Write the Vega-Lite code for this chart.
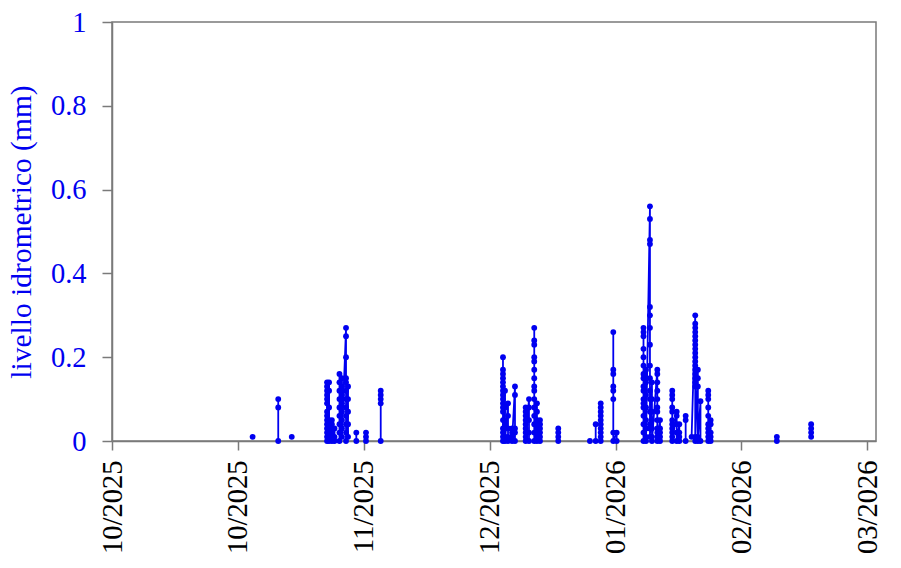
{
  "$schema": "https://vega.github.io/schema/vega-lite/v6.json",
  "autosize": "none",
  "width": 764,
  "height": 419,
  "padding": {"left": 112, "top": 22, "right": 25, "bottom": 127},
  "background": "white",
  "config": {
    "font": "Liberation Serif, Times New Roman, DejaVu Serif, serif",
    "view": {"stroke": "#7a7a7a", "strokeWidth": 1.5},
    "axis": {
      "domainColor": "#7a7a7a",
      "domainWidth": 1.5,
      "tickColor": "#7a7a7a",
      "tickWidth": 1.5,
      "grid": false,
      "labelFont": "Liberation Serif, Times New Roman, DejaVu Serif, serif",
      "titleFont": "Liberation Serif, Times New Roman, DejaVu Serif, serif",
      "labelFontSize": 28.5,
      "titleFontSize": 29.5,
      "titleFontWeight": "normal"
    }
  },
  "data": {
    "values": [
      {"t": "2025-10-30T01:00", "v": 0.01, "e": 1},
      {"t": "2025-11-04T08:00", "v": 0.10, "e": 2},
      {"t": "2025-11-04T08:00", "v": 0.08, "e": 2},
      {"t": "2025-11-04T08:00", "v": 0, "e": 2},
      {"t": "2025-11-07T03:00", "v": 0.01, "e": 3},
      {"t": "2025-11-14T10:00", "v": 0.14, "e": 4},
      {"t": "2025-11-14T10:00", "v": 0.13, "e": 4},
      {"t": "2025-11-14T10:00", "v": 0.12, "e": 4},
      {"t": "2025-11-14T10:00", "v": 0.11, "e": 4},
      {"t": "2025-11-14T10:00", "v": 0.10, "e": 4},
      {"t": "2025-11-14T10:00", "v": 0.09, "e": 4},
      {"t": "2025-11-14T10:00", "v": 0.07, "e": 4},
      {"t": "2025-11-14T10:00", "v": 0.06, "e": 4},
      {"t": "2025-11-14T10:00", "v": 0.05, "e": 4},
      {"t": "2025-11-14T10:00", "v": 0.04, "e": 4},
      {"t": "2025-11-14T10:00", "v": 0.03, "e": 4},
      {"t": "2025-11-14T10:00", "v": 0.02, "e": 4},
      {"t": "2025-11-14T10:00", "v": 0.01, "e": 4},
      {"t": "2025-11-14T10:00", "v": 0, "e": 4},
      {"t": "2025-11-14T20:00", "v": 0.14, "e": 4},
      {"t": "2025-11-14T20:00", "v": 0.12, "e": 4},
      {"t": "2025-11-14T20:00", "v": 0.08, "e": 4},
      {"t": "2025-11-14T20:00", "v": 0.05, "e": 4},
      {"t": "2025-11-14T20:00", "v": 0.02, "e": 4},
      {"t": "2025-11-14T20:00", "v": 0, "e": 4},
      {"t": "2025-11-15T10:00", "v": 0.05, "e": 4},
      {"t": "2025-11-15T10:00", "v": 0.04, "e": 4},
      {"t": "2025-11-15T10:00", "v": 0.03, "e": 4},
      {"t": "2025-11-15T10:00", "v": 0.02, "e": 4},
      {"t": "2025-11-15T10:00", "v": 0.01, "e": 4},
      {"t": "2025-11-15T10:00", "v": 0, "e": 4},
      {"t": "2025-11-15T23:00", "v": 0.03, "e": 4},
      {"t": "2025-11-15T23:00", "v": 0.01, "e": 4},
      {"t": "2025-11-15T23:00", "v": 0, "e": 4},
      {"t": "2025-11-16T23:30", "v": 0.16, "e": 5},
      {"t": "2025-11-16T23:30", "v": 0.14, "e": 5},
      {"t": "2025-11-16T23:30", "v": 0.12, "e": 5},
      {"t": "2025-11-16T23:30", "v": 0.10, "e": 5},
      {"t": "2025-11-16T23:30", "v": 0.08, "e": 5},
      {"t": "2025-11-16T23:30", "v": 0.06, "e": 5},
      {"t": "2025-11-16T23:30", "v": 0.04, "e": 5},
      {"t": "2025-11-16T23:30", "v": 0.02, "e": 5},
      {"t": "2025-11-16T23:30", "v": 0, "e": 5},
      {"t": "2025-11-17T12:00", "v": 0.15, "e": 5},
      {"t": "2025-11-17T12:00", "v": 0.13, "e": 5},
      {"t": "2025-11-17T12:00", "v": 0.11, "e": 5},
      {"t": "2025-11-17T12:00", "v": 0.09, "e": 5},
      {"t": "2025-11-17T12:00", "v": 0.07, "e": 5},
      {"t": "2025-11-17T12:00", "v": 0.05, "e": 5},
      {"t": "2025-11-17T12:00", "v": 0.03, "e": 5},
      {"t": "2025-11-17T12:00", "v": 0.01, "e": 5},
      {"t": "2025-11-18T08:00", "v": 0.27, "e": 5},
      {"t": "2025-11-18T08:00", "v": 0.25, "e": 5},
      {"t": "2025-11-18T08:00", "v": 0.20, "e": 5},
      {"t": "2025-11-18T08:00", "v": 0.15, "e": 5},
      {"t": "2025-11-18T08:00", "v": 0.14, "e": 5},
      {"t": "2025-11-18T08:00", "v": 0.12, "e": 5},
      {"t": "2025-11-18T08:00", "v": 0.10, "e": 5},
      {"t": "2025-11-18T08:00", "v": 0.08, "e": 5},
      {"t": "2025-11-18T08:00", "v": 0.06, "e": 5},
      {"t": "2025-11-18T08:00", "v": 0.04, "e": 5},
      {"t": "2025-11-18T08:00", "v": 0.02, "e": 5},
      {"t": "2025-11-18T08:00", "v": 0, "e": 5},
      {"t": "2025-11-18T18:00", "v": 0.13, "e": 5},
      {"t": "2025-11-18T18:00", "v": 0.10, "e": 5},
      {"t": "2025-11-18T18:00", "v": 0.07, "e": 5},
      {"t": "2025-11-18T18:00", "v": 0.04, "e": 5},
      {"t": "2025-11-18T18:00", "v": 0.01, "e": 5},
      {"t": "2025-11-20T11:00", "v": 0.02, "e": 6},
      {"t": "2025-11-20T11:00", "v": 0, "e": 6},
      {"t": "2025-11-22T11:00", "v": 0.02, "e": 7},
      {"t": "2025-11-22T11:00", "v": 0.01, "e": 7},
      {"t": "2025-11-22T11:00", "v": 0, "e": 7},
      {"t": "2025-11-25T12:00", "v": 0.12, "e": 8},
      {"t": "2025-11-25T12:00", "v": 0.11, "e": 8},
      {"t": "2025-11-25T12:00", "v": 0.10, "e": 8},
      {"t": "2025-11-25T12:00", "v": 0.09, "e": 8},
      {"t": "2025-11-25T12:00", "v": 0, "e": 8},
      {"t": "2025-12-20T18:00", "v": 0.20, "e": 9},
      {"t": "2025-12-20T18:00", "v": 0.17, "e": 9},
      {"t": "2025-12-20T18:00", "v": 0.16, "e": 9},
      {"t": "2025-12-20T18:00", "v": 0.15, "e": 9},
      {"t": "2025-12-20T18:00", "v": 0.14, "e": 9},
      {"t": "2025-12-20T18:00", "v": 0.13, "e": 9},
      {"t": "2025-12-20T18:00", "v": 0.12, "e": 9},
      {"t": "2025-12-20T18:00", "v": 0.11, "e": 9},
      {"t": "2025-12-20T18:00", "v": 0.10, "e": 9},
      {"t": "2025-12-20T18:00", "v": 0.09, "e": 9},
      {"t": "2025-12-20T18:00", "v": 0.08, "e": 9},
      {"t": "2025-12-20T18:00", "v": 0.07, "e": 9},
      {"t": "2025-12-20T18:00", "v": 0.05, "e": 9},
      {"t": "2025-12-20T18:00", "v": 0.03, "e": 9},
      {"t": "2025-12-20T18:00", "v": 0.02, "e": 9},
      {"t": "2025-12-20T18:00", "v": 0.01, "e": 9},
      {"t": "2025-12-20T18:00", "v": 0, "e": 9},
      {"t": "2025-12-21T04:00", "v": 0.12, "e": 9},
      {"t": "2025-12-21T04:00", "v": 0.08, "e": 9},
      {"t": "2025-12-21T04:00", "v": 0.04, "e": 9},
      {"t": "2025-12-21T04:00", "v": 0.01, "e": 9},
      {"t": "2025-12-21T04:00", "v": 0, "e": 9},
      {"t": "2025-12-21T19:00", "v": 0.09, "e": 9},
      {"t": "2025-12-21T19:00", "v": 0.06, "e": 9},
      {"t": "2025-12-21T19:00", "v": 0.03, "e": 9},
      {"t": "2025-12-21T19:00", "v": 0.01, "e": 9},
      {"t": "2025-12-21T19:00", "v": 0, "e": 9},
      {"t": "2025-12-22T15:00", "v": 0.03, "e": 10},
      {"t": "2025-12-22T15:00", "v": 0.02, "e": 10},
      {"t": "2025-12-22T15:00", "v": 0.01, "e": 10},
      {"t": "2025-12-22T15:00", "v": 0, "e": 10},
      {"t": "2025-12-23T05:30", "v": 0.13, "e": 10},
      {"t": "2025-12-23T05:30", "v": 0.11, "e": 10},
      {"t": "2025-12-23T05:30", "v": 0.03, "e": 10},
      {"t": "2025-12-23T05:30", "v": 0.02, "e": 10},
      {"t": "2025-12-23T05:30", "v": 0, "e": 10},
      {"t": "2025-12-25T10:30", "v": 0.08, "e": 11},
      {"t": "2025-12-25T10:30", "v": 0.07, "e": 11},
      {"t": "2025-12-25T10:30", "v": 0.06, "e": 11},
      {"t": "2025-12-25T10:30", "v": 0.05, "e": 11},
      {"t": "2025-12-25T10:30", "v": 0.04, "e": 11},
      {"t": "2025-12-25T10:30", "v": 0.03, "e": 11},
      {"t": "2025-12-25T10:30", "v": 0.02, "e": 11},
      {"t": "2025-12-25T10:30", "v": 0.01, "e": 11},
      {"t": "2025-12-25T10:30", "v": 0, "e": 11},
      {"t": "2025-12-26T03:00", "v": 0.10, "e": 11},
      {"t": "2025-12-26T03:00", "v": 0.08, "e": 11},
      {"t": "2025-12-26T03:00", "v": 0.05, "e": 11},
      {"t": "2025-12-26T03:00", "v": 0.02, "e": 11},
      {"t": "2025-12-26T03:00", "v": 0, "e": 11},
      {"t": "2025-12-27T05:00", "v": 0.27, "e": 12},
      {"t": "2025-12-27T05:00", "v": 0.24, "e": 12},
      {"t": "2025-12-27T05:00", "v": 0.23, "e": 12},
      {"t": "2025-12-27T05:00", "v": 0.20, "e": 12},
      {"t": "2025-12-27T05:00", "v": 0.19, "e": 12},
      {"t": "2025-12-27T05:00", "v": 0.17, "e": 12},
      {"t": "2025-12-27T05:00", "v": 0.15, "e": 12},
      {"t": "2025-12-27T05:00", "v": 0.13, "e": 12},
      {"t": "2025-12-27T05:00", "v": 0.12, "e": 12},
      {"t": "2025-12-27T05:00", "v": 0.10, "e": 12},
      {"t": "2025-12-27T05:00", "v": 0.08, "e": 12},
      {"t": "2025-12-27T05:00", "v": 0.06, "e": 12},
      {"t": "2025-12-27T05:00", "v": 0.04, "e": 12},
      {"t": "2025-12-27T05:00", "v": 0.02, "e": 12},
      {"t": "2025-12-27T05:00", "v": 0, "e": 12},
      {"t": "2025-12-27T18:30", "v": 0.09, "e": 12},
      {"t": "2025-12-27T18:30", "v": 0.07, "e": 12},
      {"t": "2025-12-27T18:30", "v": 0.05, "e": 12},
      {"t": "2025-12-27T18:30", "v": 0.04, "e": 12},
      {"t": "2025-12-27T18:30", "v": 0.03, "e": 12},
      {"t": "2025-12-27T18:30", "v": 0.02, "e": 12},
      {"t": "2025-12-27T18:30", "v": 0.01, "e": 12},
      {"t": "2025-12-27T18:30", "v": 0, "e": 12},
      {"t": "2025-12-28T09:30", "v": 0.05, "e": 12},
      {"t": "2025-12-28T09:30", "v": 0.04, "e": 12},
      {"t": "2025-12-28T09:30", "v": 0.03, "e": 12},
      {"t": "2025-12-28T09:30", "v": 0.02, "e": 12},
      {"t": "2025-12-28T09:30", "v": 0.01, "e": 12},
      {"t": "2025-12-28T09:30", "v": 0, "e": 12},
      {"t": "2026-01-01T04:00", "v": 0.03, "e": 13},
      {"t": "2026-01-01T04:00", "v": 0.02, "e": 13},
      {"t": "2026-01-01T04:00", "v": 0.01, "e": 13},
      {"t": "2026-01-01T04:00", "v": 0, "e": 13},
      {"t": "2026-01-07T17:00", "v": 0, "e": 14},
      {"t": "2026-01-08T21:30", "v": 0.04, "e": 15},
      {"t": "2026-01-08T21:30", "v": 0, "e": 15},
      {"t": "2026-01-09T22:30", "v": 0.09, "e": 16},
      {"t": "2026-01-09T22:30", "v": 0.08, "e": 16},
      {"t": "2026-01-09T22:30", "v": 0.07, "e": 16},
      {"t": "2026-01-09T22:30", "v": 0.06, "e": 16},
      {"t": "2026-01-09T22:30", "v": 0.05, "e": 16},
      {"t": "2026-01-09T22:30", "v": 0.04, "e": 16},
      {"t": "2026-01-09T22:30", "v": 0.03, "e": 16},
      {"t": "2026-01-09T22:30", "v": 0.02, "e": 16},
      {"t": "2026-01-09T22:30", "v": 0.01, "e": 16},
      {"t": "2026-01-09T22:30", "v": 0, "e": 16},
      {"t": "2026-01-12T12:45", "v": 0.26, "e": 17},
      {"t": "2026-01-12T12:45", "v": 0.17, "e": 17},
      {"t": "2026-01-12T12:45", "v": 0.16, "e": 17},
      {"t": "2026-01-12T12:45", "v": 0.13, "e": 17},
      {"t": "2026-01-12T12:45", "v": 0.12, "e": 17},
      {"t": "2026-01-12T12:45", "v": 0.10, "e": 17},
      {"t": "2026-01-12T12:45", "v": 0.02, "e": 17},
      {"t": "2026-01-12T12:45", "v": 0, "e": 17},
      {"t": "2026-01-13T05:30", "v": 0.02, "e": 17},
      {"t": "2026-01-13T05:30", "v": 0, "e": 17},
      {"t": "2026-01-18T18:30", "v": 0.27, "e": 18},
      {"t": "2026-01-18T18:30", "v": 0.26, "e": 18},
      {"t": "2026-01-18T18:30", "v": 0.25, "e": 18},
      {"t": "2026-01-18T18:30", "v": 0.22, "e": 18},
      {"t": "2026-01-18T18:30", "v": 0.20, "e": 18},
      {"t": "2026-01-18T18:30", "v": 0.18, "e": 18},
      {"t": "2026-01-18T18:30", "v": 0.16, "e": 18},
      {"t": "2026-01-18T18:30", "v": 0.15, "e": 18},
      {"t": "2026-01-18T18:30", "v": 0.13, "e": 18},
      {"t": "2026-01-18T18:30", "v": 0.12, "e": 18},
      {"t": "2026-01-18T18:30", "v": 0.10, "e": 18},
      {"t": "2026-01-18T18:30", "v": 0.09, "e": 18},
      {"t": "2026-01-18T18:30", "v": 0.08, "e": 18},
      {"t": "2026-01-18T18:30", "v": 0.06, "e": 18},
      {"t": "2026-01-18T18:30", "v": 0.04, "e": 18},
      {"t": "2026-01-18T18:30", "v": 0.02, "e": 18},
      {"t": "2026-01-18T18:30", "v": 0, "e": 18},
      {"t": "2026-01-19T07:00", "v": 0.17, "e": 18},
      {"t": "2026-01-19T07:00", "v": 0.14, "e": 18},
      {"t": "2026-01-19T07:00", "v": 0.11, "e": 18},
      {"t": "2026-01-19T07:00", "v": 0.08, "e": 18},
      {"t": "2026-01-19T07:00", "v": 0.05, "e": 18},
      {"t": "2026-01-19T07:00", "v": 0.03, "e": 18},
      {"t": "2026-01-19T07:00", "v": 0.01, "e": 18},
      {"t": "2026-01-19T07:00", "v": 0, "e": 18},
      {"t": "2026-01-20T02:30", "v": 0.56, "e": 18},
      {"t": "2026-01-20T02:30", "v": 0.53, "e": 18},
      {"t": "2026-01-20T02:30", "v": 0.48, "e": 18},
      {"t": "2026-01-20T02:30", "v": 0.47, "e": 18},
      {"t": "2026-01-20T02:30", "v": 0.32, "e": 18},
      {"t": "2026-01-20T02:30", "v": 0.30, "e": 18},
      {"t": "2026-01-20T02:30", "v": 0.27, "e": 18},
      {"t": "2026-01-20T02:30", "v": 0.23, "e": 18},
      {"t": "2026-01-20T02:30", "v": 0.18, "e": 18},
      {"t": "2026-01-20T02:30", "v": 0.15, "e": 18},
      {"t": "2026-01-20T02:30", "v": 0.12, "e": 18},
      {"t": "2026-01-20T02:30", "v": 0.10, "e": 18},
      {"t": "2026-01-20T02:30", "v": 0.07, "e": 18},
      {"t": "2026-01-20T02:30", "v": 0.04, "e": 18},
      {"t": "2026-01-20T02:30", "v": 0.03, "e": 18},
      {"t": "2026-01-20T02:30", "v": 0.01, "e": 18},
      {"t": "2026-01-20T12:30", "v": 0.14, "e": 18},
      {"t": "2026-01-20T12:30", "v": 0.10, "e": 18},
      {"t": "2026-01-20T12:30", "v": 0.07, "e": 18},
      {"t": "2026-01-20T12:30", "v": 0.05, "e": 18},
      {"t": "2026-01-20T12:30", "v": 0.03, "e": 18},
      {"t": "2026-01-20T12:30", "v": 0.01, "e": 18},
      {"t": "2026-01-20T12:30", "v": 0, "e": 18},
      {"t": "2026-01-21T15:00", "v": 0.17, "e": 18},
      {"t": "2026-01-21T15:00", "v": 0.16, "e": 18},
      {"t": "2026-01-21T15:00", "v": 0.14, "e": 18},
      {"t": "2026-01-21T15:00", "v": 0.12, "e": 18},
      {"t": "2026-01-21T15:00", "v": 0.10, "e": 18},
      {"t": "2026-01-21T15:00", "v": 0.08, "e": 18},
      {"t": "2026-01-21T15:00", "v": 0.07, "e": 18},
      {"t": "2026-01-21T15:00", "v": 0.05, "e": 18},
      {"t": "2026-01-21T15:00", "v": 0.03, "e": 18},
      {"t": "2026-01-21T15:00", "v": 0.02, "e": 18},
      {"t": "2026-01-21T15:00", "v": 0.01, "e": 18},
      {"t": "2026-01-21T15:00", "v": 0, "e": 18},
      {"t": "2026-01-22T04:30", "v": 0.05, "e": 18},
      {"t": "2026-01-22T04:30", "v": 0.03, "e": 18},
      {"t": "2026-01-22T04:30", "v": 0.02, "e": 18},
      {"t": "2026-01-22T04:30", "v": 0.01, "e": 18},
      {"t": "2026-01-22T04:30", "v": 0, "e": 18},
      {"t": "2026-01-24T17:00", "v": 0.12, "e": 19},
      {"t": "2026-01-24T17:00", "v": 0.11, "e": 19},
      {"t": "2026-01-24T17:00", "v": 0.10, "e": 19},
      {"t": "2026-01-24T17:00", "v": 0.08, "e": 19},
      {"t": "2026-01-24T17:00", "v": 0.07, "e": 19},
      {"t": "2026-01-24T17:00", "v": 0.05, "e": 19},
      {"t": "2026-01-24T17:00", "v": 0.04, "e": 19},
      {"t": "2026-01-24T17:00", "v": 0.03, "e": 19},
      {"t": "2026-01-24T17:00", "v": 0.02, "e": 19},
      {"t": "2026-01-24T17:00", "v": 0.01, "e": 19},
      {"t": "2026-01-24T17:00", "v": 0, "e": 19},
      {"t": "2026-01-25T15:00", "v": 0.07, "e": 19},
      {"t": "2026-01-25T15:00", "v": 0.06, "e": 19},
      {"t": "2026-01-25T15:00", "v": 0.04, "e": 19},
      {"t": "2026-01-25T15:00", "v": 0.02, "e": 19},
      {"t": "2026-01-25T15:00", "v": 0, "e": 19},
      {"t": "2026-01-26T04:00", "v": 0.04, "e": 19},
      {"t": "2026-01-26T04:00", "v": 0.02, "e": 19},
      {"t": "2026-01-26T04:00", "v": 0.01, "e": 19},
      {"t": "2026-01-26T04:00", "v": 0, "e": 19},
      {"t": "2026-01-27T11:30", "v": 0.06, "e": 20},
      {"t": "2026-01-27T11:30", "v": 0.05, "e": 20},
      {"t": "2026-01-27T11:30", "v": 0, "e": 20},
      {"t": "2026-01-28T17:00", "v": 0.01, "e": 22},
      {"t": "2026-01-29T11:00", "v": 0.30, "e": 22},
      {"t": "2026-01-29T11:00", "v": 0.28, "e": 22},
      {"t": "2026-01-29T11:00", "v": 0.27, "e": 22},
      {"t": "2026-01-29T11:00", "v": 0.26, "e": 22},
      {"t": "2026-01-29T11:00", "v": 0.25, "e": 22},
      {"t": "2026-01-29T11:00", "v": 0.24, "e": 22},
      {"t": "2026-01-29T11:00", "v": 0.23, "e": 22},
      {"t": "2026-01-29T11:00", "v": 0.22, "e": 22},
      {"t": "2026-01-29T11:00", "v": 0.21, "e": 22},
      {"t": "2026-01-29T11:00", "v": 0.20, "e": 22},
      {"t": "2026-01-29T11:00", "v": 0.19, "e": 22},
      {"t": "2026-01-29T11:00", "v": 0.18, "e": 22},
      {"t": "2026-01-29T11:00", "v": 0.17, "e": 22},
      {"t": "2026-01-29T11:00", "v": 0.16, "e": 22},
      {"t": "2026-01-29T11:00", "v": 0.15, "e": 22},
      {"t": "2026-01-29T11:00", "v": 0.14, "e": 22},
      {"t": "2026-01-29T11:00", "v": 0.13, "e": 22},
      {"t": "2026-01-29T11:00", "v": 0.01, "e": 22},
      {"t": "2026-01-29T11:00", "v": 0, "e": 22},
      {"t": "2026-01-30T00:00", "v": 0.17, "e": 22},
      {"t": "2026-01-30T00:00", "v": 0.15, "e": 22},
      {"t": "2026-01-30T00:00", "v": 0.13, "e": 22},
      {"t": "2026-01-30T00:00", "v": 0.01, "e": 22},
      {"t": "2026-01-30T00:00", "v": 0, "e": 22},
      {"t": "2026-01-30T13:00", "v": 0.095, "e": 22},
      {"t": "2026-01-30T13:00", "v": 0, "e": 22},
      {"t": "2026-02-01T03:30", "v": 0.12, "e": 23},
      {"t": "2026-02-01T03:30", "v": 0.11, "e": 23},
      {"t": "2026-02-01T03:30", "v": 0.10, "e": 23},
      {"t": "2026-02-01T03:30", "v": 0.08, "e": 23},
      {"t": "2026-02-01T03:30", "v": 0.06, "e": 23},
      {"t": "2026-02-01T03:30", "v": 0.04, "e": 23},
      {"t": "2026-02-01T03:30", "v": 0.03, "e": 23},
      {"t": "2026-02-01T03:30", "v": 0.02, "e": 23},
      {"t": "2026-02-01T03:30", "v": 0.01, "e": 23},
      {"t": "2026-02-01T03:30", "v": 0, "e": 23},
      {"t": "2026-02-01T15:30", "v": 0.05, "e": 23},
      {"t": "2026-02-01T15:30", "v": 0.04, "e": 23},
      {"t": "2026-02-01T15:30", "v": 0.02, "e": 23},
      {"t": "2026-02-01T15:30", "v": 0.01, "e": 23},
      {"t": "2026-02-01T15:30", "v": 0, "e": 23},
      {"t": "2026-02-15T07:30", "v": 0.01, "e": 24},
      {"t": "2026-02-15T07:30", "v": 0, "e": 24},
      {"t": "2026-02-22T09:30", "v": 0.04, "e": 25},
      {"t": "2026-02-22T09:30", "v": 0.03, "e": 25},
      {"t": "2026-02-22T09:30", "v": 0.02, "e": 25},
      {"t": "2026-02-22T09:30", "v": 0.01, "e": 25}
    ]
  },
  "encoding": {
    "x": {
      "field": "t",
      "type": "temporal",
      "scale": {
        "domain": [
          {"year": 2025, "month": 10, "date": 1},
          {"year": 2026, "month": 3, "date": 7, "hours": 19}
        ],
        "nice": false
      },
      "axis": {
        "title": null,
        "values": [
          {"year": 2025, "month": 10, "date": 1},
          {"year": 2025, "month": 10, "date": 27},
          {"year": 2025, "month": 11, "date": 22},
          {"year": 2025, "month": 12, "date": 18},
          {"year": 2026, "month": 1, "date": 13},
          {"year": 2026, "month": 2, "date": 8},
          {"year": 2026, "month": 3, "date": 6}
        ],
        "format": "%m/%Y",
        "labelAngle": -90,
        "labelColor": "black",
        "tickSize": 9,
        "labelPadding": 10,
        "labelFlush": false,
        "labelOverlap": false
      }
    },
    "y": {
      "field": "v",
      "type": "quantitative",
      "scale": {"domain": [0, 1], "nice": false, "zero": true},
      "axis": {
        "title": "livello idrometrico (mm)",
        "titleColor": "#0000f0",
        "labelColor": "#0000f0",
        "values": [0, 0.2, 0.4, 0.6, 0.8, 1],
        "format": "~g",
        "tickSize": 10,
        "labelPadding": 16,
        "titlePadding": 14
      }
    }
  },
  "layer": [
    {
      "mark": {"type": "line", "color": "#0000f0", "strokeWidth": 1.8},
      "encoding": {"detail": {"field": "e", "type": "nominal"}}
    },
    {
      "mark": {"type": "circle", "color": "#0000f0", "size": 34, "opacity": 1}
    }
  ]
}
